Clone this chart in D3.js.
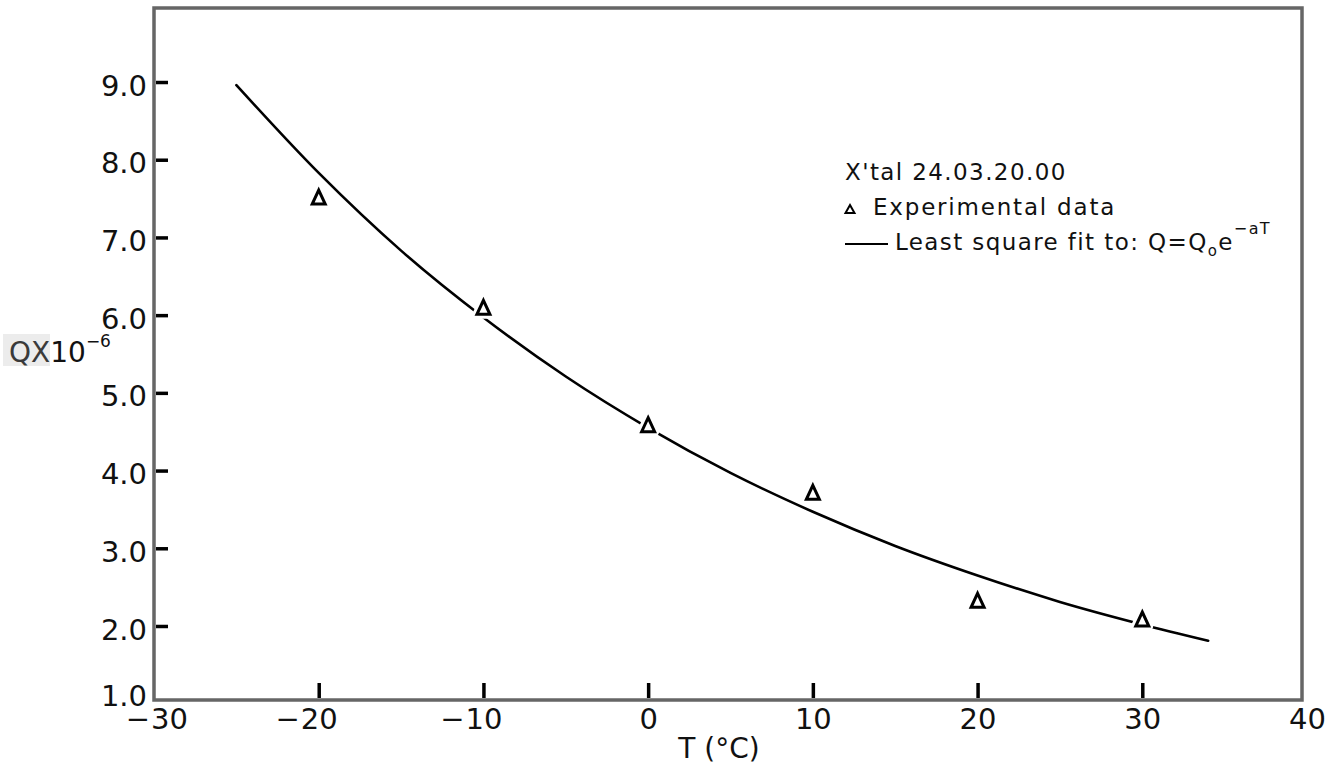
<!DOCTYPE html>
<html>
<head>
<meta charset="utf-8">
<script src="https://cdn.jsdelivr.net/npm/d3@7"></script>
<style>
  body { margin: 0; background: #fff; }
  svg { display: block; }
  text { font-family: "DejaVu Sans", "Liberation Sans", sans-serif; fill: #111; }
</style>
</head>
<body>
<svg id="chart" width="1337" height="766"></svg>
<script>
// Axis ticks
const xTicks = [-30, -20, -10, 0, 10, 20, 30, 40];
const yTicks = [1, 2, 3, 4, 5, 6, 7, 8, 9];

// Measured quality factor (×10^-6) versus temperature
const tempData = [-20, -10, 0, 10, 20, 30];
const qData = [7.52, 6.10, 4.59, 3.72, 2.33, 2.09];

// Least-square fit curve, sampled along T
const fitT = [-25, -20, -15, -10, -5, 0, 5, 10, 15, 20, 25, 30, 34];
const fitQ = [8.96, 7.83, 6.83, 5.97, 5.21, 4.55, 3.97, 3.47, 3.03, 2.65, 2.31, 2.02, 1.81];

const legendTitle = "X'tal 24.03.20.00";
const legendData = "Experimental data";
const legendFit = "Least square fit to: Q=Q";

const svg = d3.select("#chart");

const x = d3.scaleLinear().domain([-30, 40]).range([154, 1307]);
const y = d3.scaleLinear().domain([1, 10]).range([703.7, 4.3]);

// Plot frame
const frame = { left: 154, top: 8, right: 1302, bottom: 700 };
svg.append("rect")
  .attr("x", frame.left).attr("y", frame.top)
  .attr("width", frame.right - frame.left)
  .attr("height", frame.bottom - frame.top)
  .attr("fill", "none")
  .attr("stroke", "#666")
  .attr("stroke-width", 3.5);

// Y axis: short inward dashes, labels to the left
const yAxis = svg.append("g")
  .attr("transform", `translate(${frame.left + 2},0)`)
  .call(d3.axisLeft(y).tickValues(yTicks).tickFormat(d3.format(".1f"))
    .tickSize(-12).tickPadding(9));
yAxis.select(".domain").remove();
yAxis.selectAll(".tick line")
  .attr("stroke", "#000").attr("stroke-width", 3.5)
  .filter(d => d === 1).remove();
yAxis.selectAll(".tick text")
  .attr("font-size", 29).attr("fill", "#111")
  .attr("dy", "0.45em")
  .style("font-family", "'DejaVu Sans', sans-serif");
// the bottom label sits just above the x-axis labels
yAxis.selectAll(".tick text").filter(d => d === 1).attr("y", -11);

// X axis: short upward ticks, labels below
const xAxis = svg.append("g")
  .attr("transform", `translate(0,${frame.bottom - 2})`)
  .call(d3.axisBottom(x).tickValues(xTicks).tickFormat(d => Math.abs(d))
    .tickSize(-15).tickPadding(8));
xAxis.select(".domain").remove();
xAxis.selectAll(".tick line")
  .attr("stroke", "#000").attr("stroke-width", 3.5)
  .filter(d => d === -30 || d === 40).remove();
xAxis.selectAll(".tick text")
  .attr("font-size", 29).attr("fill", "#111")
  .attr("y", 10)
  .style("font-family", "'DejaVu Sans', sans-serif");
// first label is nudged right, clear of the y labels
xAxis.selectAll(".tick text").filter(d => d === -30).attr("x", 15);
// minus signs hang to the left of the digits
xAxis.selectAll(".tick").filter(d => d < 0).each(function () {
  const g = d3.select(this);
  const t = g.select("text");
  const w = t.node().getComputedTextLength();
  const cx = +(t.attr("x") || 0);
  g.append("text")
    .attr("x", cx - w / 2 - 1)
    .attr("y", t.attr("y"))
    .attr("dy", t.attr("dy"))
    .attr("text-anchor", "end")
    .attr("font-size", 29)
    .attr("fill", "#111")
    .text("\u2212");
});

// Axis titles
svg.append("rect")
  .attr("x", 3).attr("y", 334).attr("width", 47).attr("height", 32)
  .attr("fill", "#ececec");
const yTitle = svg.append("text")
  .attr("x", 9).attr("y", 362)
  .attr("font-size", 28);
yTitle.append("tspan").attr("fill", "#3a3a3a").text("QX");
yTitle.append("tspan").text("10");
yTitle.append("tspan").attr("font-size", 17).attr("dy", -15).text("\u22126");

svg.append("text")
  .attr("x", 719).attr("y", 758)
  .attr("text-anchor", "middle")
  .attr("font-size", 28)
  .text("T (\u00B0C)");

// Fit curve
const line = d3.line()
  .x((d, i) => x(fitT[i]))
  .y(d => y(d))
  .curve(d3.curveMonotoneX);
svg.append("path")
  .datum(fitQ)
  .attr("d", line)
  .attr("fill", "none")
  .attr("stroke", "#000")
  .attr("stroke-width", 2.6)
  .attr("stroke-linecap", "round");

// Open triangle markers
function triangle(cx, cy, w, h) {
  const p = d3.path();
  p.moveTo(cx, cy - h / 2);
  p.lineTo(cx + w / 2, cy + h / 2);
  p.lineTo(cx - w / 2, cy + h / 2);
  p.closePath();
  return p.toString();
}
const pts = svg.append("g");
pts.selectAll("path.halo")
  .data(qData)
  .join("path")
  .attr("class", "halo")
  .attr("d", (d, i) => triangle(x(tempData[i]), y(d), 13, 14))
  .attr("fill", "#fff")
  .attr("stroke", "#fff")
  .attr("stroke-width", 9)
  .attr("stroke-linejoin", "round");
pts.selectAll("path.mark")
  .data(qData)
  .join("path")
  .attr("class", "mark")
  .attr("d", (d, i) => triangle(x(tempData[i]), y(d), 13, 14))
  .attr("fill", "#fff")
  .attr("stroke", "#000")
  .attr("stroke-width", 3)
  .attr("stroke-linejoin", "miter");

// Legend
const lg = svg.append("g");
lg.append("text").attr("x", 845).attr("y", 180).attr("font-size", 23)
  .attr("letter-spacing", 1.4).text(legendTitle);
lg.append("path")
  .attr("d", triangle(850, 209, 9, 8))
  .attr("fill", "none").attr("stroke", "#000").attr("stroke-width", 2);
lg.append("text").attr("x", 873).attr("y", 215).attr("font-size", 23)
  .attr("letter-spacing", 1.8).text(legendData);
lg.append("line")
  .attr("x1", 845).attr("x2", 888).attr("y1", 244).attr("y2", 244)
  .attr("stroke", "#000").attr("stroke-width", 2.2);
const fitText = lg.append("text").attr("x", 895).attr("y", 250).attr("font-size", 23)
  .attr("letter-spacing", 1.4);
fitText.append("tspan").text(legendFit);
fitText.append("tspan").attr("font-size", 15).attr("dy", 6).text("o");
fitText.append("tspan").attr("dy", -6).text("e");
fitText.append("tspan").attr("font-size", 16).attr("dy", -16).text("\u2212aT");
</script>
</body>
</html>
